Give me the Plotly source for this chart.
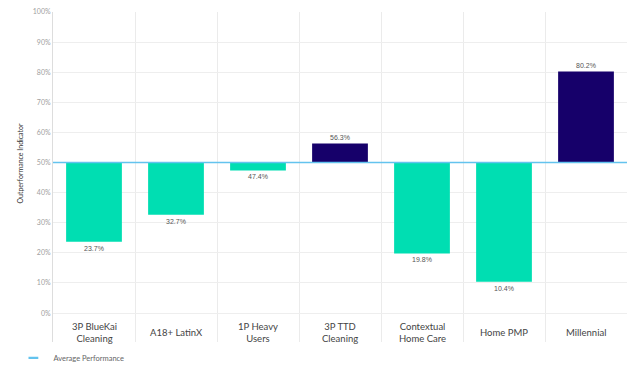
import plotly.graph_objects as go

categories = ["3P BlueKai<br>Cleaning", "A18+ LatinX", "1P Heavy<br>Users", "3P TTD<br>Cleaning",
              "Contextual<br>Home Care", "Home PMP", "Millennial"]
values = [23.7, 32.7, 47.4, 56.3, 19.8, 10.4, 80.2]
average = 50
y_ticks = [0, 10, 20, 30, 40, 50, 60, 70, 80, 90, 100]
y_tick_labels = [f"{t}%" for t in y_ticks]

TEAL = "#00DEB2"
NAVY = "#16006A"
AVG = "#63C3EE"

xs = list(range(len(categories)))
colors = [NAVY if v > average else TEAL for v in values]

fig = go.Figure()
fig.add_trace(go.Bar(
    x=xs, y=[v - average for v in values], base=average,
    marker=dict(color=colors, line=dict(width=0)),
    text=[f"{v}%" for v in values], textposition="outside",
    textfont=dict(family="Liberation Sans, Arial", size=7, color="#555"),
    cliponaxis=False, showlegend=False, width=0.68,
))
fig.add_trace(go.Scatter(
    x=[-0.58, len(categories) - 0.5], y=[average, average], mode="lines",
    line=dict(color=AVG, width=1.5), name="Average Performance",
    cliponaxis=False, showlegend=False,
))
# legend entry (short dash symbol)
fig.add_trace(go.Scatter(
    x=[None], y=[None], mode="markers", name="Average Performance",
    marker=dict(symbol="line-ew", size=7, line=dict(color=AVG, width=2.2)),
))

for i, c in enumerate(categories):
    fig.add_annotation(x=i, y=-6.4, xref="x", yref="y", text=c, showarrow=False,
                       font=dict(family="Lato", size=9.5, color="#444"), align="center")

fig.add_annotation(x=-0.0575, y=0.5 + 4.8 / 109.6, xref="paper", yref="paper",
                   text="Outperformance Indicator", textangle=-90, showarrow=False,
                   font=dict(family="Lato", size=7, color="#333"), xanchor="center", yanchor="middle")

# page has an 8px body margin; figure sized/positioned to compensate
fig.update_layout(
    width=631, height=372,
    margin=dict(l=45, r=12, t=4, b=38, autoexpand=False),
    plot_bgcolor="white", paper_bgcolor="white",
    bargap=0.32,
    showlegend=True,
    legend=dict(orientation="h", x=-0.069, xanchor="left", y=-0.048, yanchor="middle",
                font=dict(family="Lato", size=7.5, color="#666"), itemwidth=30),
)
fig.update_xaxes(
    range=[-0.5, len(categories) - 0.5],
    tickvals=[i - 0.5 for i in range(len(categories) + 1)],
    showticklabels=False, showgrid=True, gridcolor="#EBEBEB", gridwidth=1,
    zeroline=False, showline=False, ticks="", automargin=False,
)
fig.update_yaxes(
    range=[-9.6, 100], tickvals=y_ticks, ticktext=y_tick_labels,
    tickfont=dict(family="Lato", size=7, color="#A0A0A0"),
    showgrid=True, gridcolor="#EEEEEE", gridwidth=1, zeroline=False,
    showline=True, linecolor="#DDDDDD", linewidth=1, ticks="", ticklen=0,
    automargin=False, ticklabeloverflow="allow",
)

fig.write_html("out.html")
